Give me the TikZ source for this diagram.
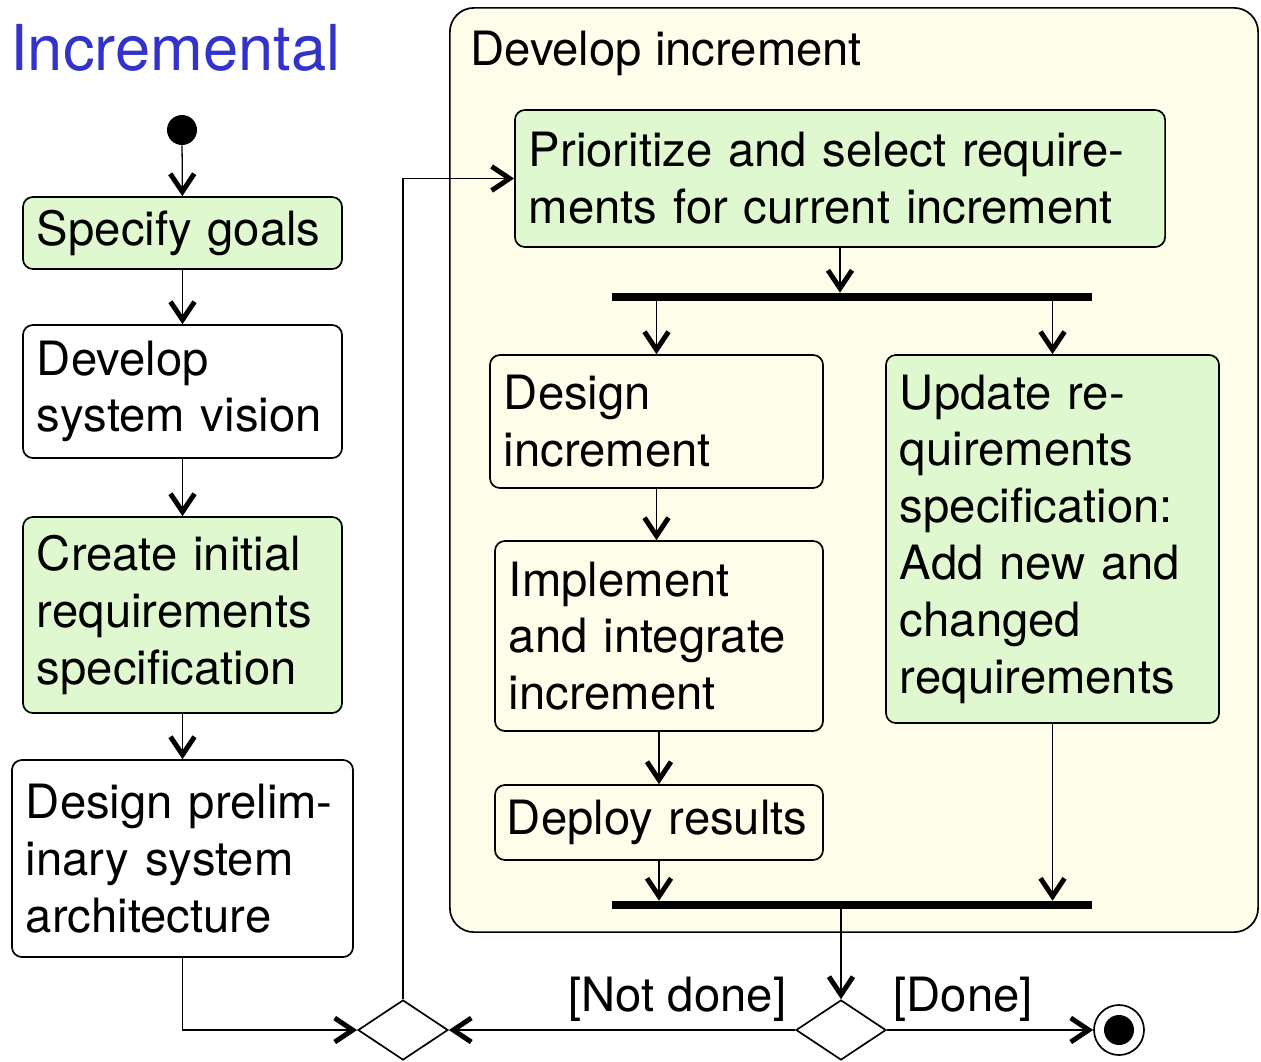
\documentclass[tikz,border=0pt]{standalone}
\usepackage{fontspec}
\setmainfont{TeX Gyre Heros}
\usetikzlibrary{positioning,shapes.geometric,arrows.meta}

\definecolor{actgreen}{RGB}{224,248,208}
\definecolor{regionyellow}{RGB}{254,253,234}
\definecolor{titleblue}{RGB}{51,51,204}

\tikzset{
  act/.style={draw, line width=1.2pt, rounded corners=0.25cm, align=left,
              inner xsep=0.35cm, inner ysep=0pt},
  greenact/.style={act, fill=actgreen},
  bar/.style={fill=black, minimum width=12cm, minimum height=0.2cm, inner sep=0pt},
  choice/.style={diamond, draw, line width=1.2pt, fill=white,
                 minimum width=2.25cm, minimum height=1.5cm, inner sep=0pt},
  arr/.style={line width=0.9pt, -{Straight Barb[length=0.45cm,width=0.6cm,line width=3.5pt]}},
  guard/.style={above, inner sep=0.2cm},
}

\begin{document}
\begin{tikzpicture}[x=0.025cm, y=-0.025cm, font=\fontsize{33.6}{40.4}\selectfont]
\useasboundingbox (0,0) rectangle (1261,1061);

% ── Title ───────────────────────────────────────────────────
\node[anchor=base west, inner sep=0pt, text=titleblue, font=\fontsize{45}{54}\selectfont]
  (title) at (10,70) {Incremental};

% ── LEFT COLUMN: preparation ────────────────────────────────
\node[circle, fill=black, minimum size=0.75cm, inner sep=0pt] (start) at (182,130) {};

\node[greenact, text width=7.275cm, minimum height=1.8cm]   (spec)    at (182.5,233)   {Specify goals};
\node[act,      text width=7.275cm, minimum height=3.325cm] (vision)  at (182.5,391.5) {Develop\\system vision};
\node[greenact, text width=7.275cm, minimum height=4.9cm]   (initreq) at (182.5,615)   {Create initial\\requirements\\specification};
\node[act,      text width=7.825cm, minimum height=4.925cm] (prelim)  at (182.5,858.5) {Design prelim-\\inary system\\architecture};

\foreach \a/\b in {start/spec, spec/vision, vision/initreq, initreq/prelim}
  \draw[arr] (\a) -- (\b);

% ── RIGHT REGION: Develop increment ─────────────────────────
\node[draw, line width=1.2pt, fill=regionyellow, rounded corners=0.6cm,
      minimum width=20.2cm, minimum height=23.1cm, inner sep=0pt] (incr) at (854,470) {};
\node[anchor=base west, inner sep=0pt] (incrlabel) at (470,65) {Develop increment};

\node[greenact, text width=15.55cm, minimum height=3.425cm] (prio) at (840,178.5)
  {Prioritize and select require-\\ments for current increment};

\node[bar] (fork) at (852,297) {};

\node[act,      text width=7.625cm, minimum height=3.325cm] (design) at (656.5,421.5) {Design\\increment};
\node[act,      text width=7.5cm,   minimum height=4.75cm]  (impl)   at (659,636)     {Implement\\and integrate\\increment};
\node[act, inner xsep=0.3cm, text width=7.6cm, minimum height=1.875cm] (deploy) at (659,822.5) {Deploy results};
\node[greenact, text width=7.625cm, minimum height=9.2cm]   (update) at (1052.5,539)
  {Update re-\\quirements\\specification:\\Add new and\\changed\\requirements};

\node[bar] (join) at (852,905) {};

\draw[arr] (prio.south) -- (prio.south |- fork.north);
\draw[arr] (design.north |- fork.south) -- (design.north);
\draw[arr] (update.north |- fork.south) -- (update.north);
\draw[arr] (design.south) -- (design.south |- impl.north);
\draw[arr] (impl.south) -- (impl.south |- deploy.north);
\draw[arr] (deploy.south) -- (deploy.south |- join.north);
\draw[arr] (update.south) -- (update.south |- join.north);

% ── BOTTOM: merge, decision, end ────────────────────────────
\node[choice] (merge)    at (403,1030) {};
\node[choice] (decision) at (841,1030) {};
\node[circle, draw, line width=1.2pt, fill=white, minimum size=1.25cm, inner sep=0pt] (end) at (1119,1030) {};
\node[circle, fill=black, minimum size=0.75cm, inner sep=0pt] (enddot) at (end.center) {};

\draw[arr] (decision.north |- join.south) -- (decision.north);
\draw[arr] (prelim.south) |- (merge.west);
\draw[arr] (merge.north) |- (prio.west);
\draw[arr] (decision.west) -- node[guard, pos=0.34] {[Not done]} (merge.east);
\draw[arr] (decision.east) -- node[guard, pos=0.37] {[Done]} (end.west);

\end{tikzpicture}
\end{document}
